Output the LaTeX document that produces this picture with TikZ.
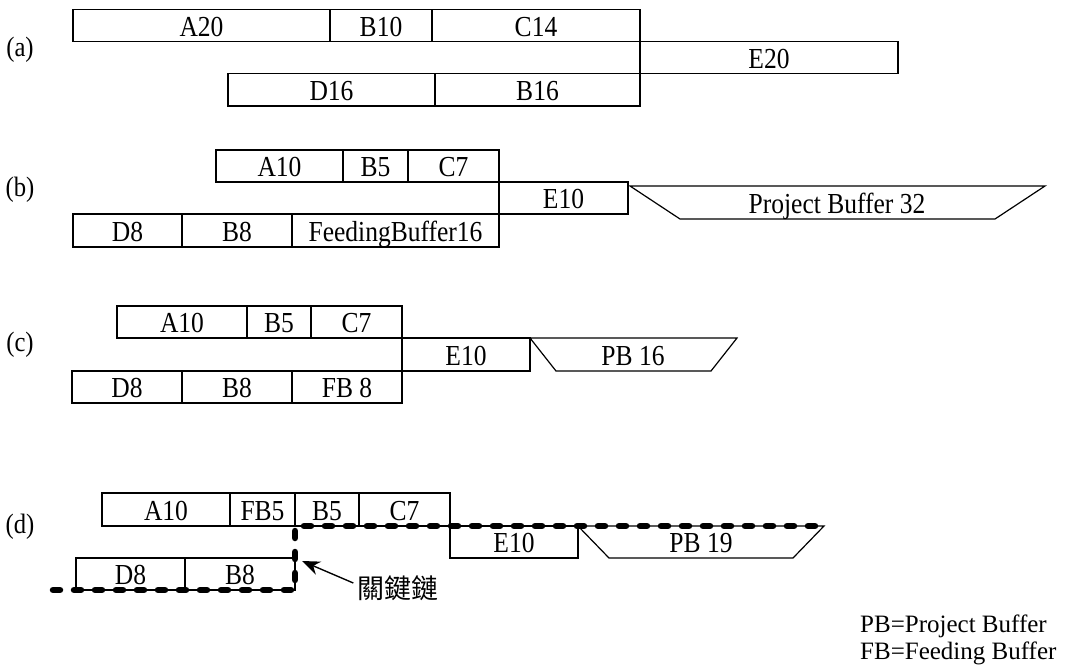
\documentclass[tikz,border=0pt]{standalone}
\usepackage{fontspec}
\setmainfont{Liberation Serif}
\newfontfamily\boxfont[FakeStretch=0.88]{Liberation Serif}
\newfontfamily\cjk{Noto Sans CJK TC}
\usetikzlibrary{calc,arrows.meta}
\tikzset{
  frame/.style={draw=black, line width=1.2pt},
  tbox/.style={frame, rectangle, inner sep=0pt, outer sep=0pt,
    font=\boxfont\fontsize{29}{29}\selectfont, text height=21pt, text depth=0pt},
  lbl/.style={inner sep=0pt, font=\boxfont\fontsize{29}{29}\selectfont, text height=21pt, text depth=0pt},
  rowlbl/.style={inner sep=0pt, font=\boxfont\fontsize{28}{28}\selectfont},
  legend/.style={inner sep=0pt, anchor=base west, font=\fontsize{25}{25}\selectfont, text height=17pt, text depth=5pt},
  chain/.style={line width=6.5pt, dash pattern=on 7pt off 14pt, line cap=round, black},
  pointer/.style={line width=1.4pt, -{Stealth[length=18pt,width=14pt]}}
}
\newcommand\tbox[6]{\node[tbox, minimum width={#4-#2}, minimum height={#5-#3}] (#1) at ({(#2+#4)/2},{(#3+#5)/2}) {#6};}
\begin{document}
\begin{tikzpicture}[x=1pt,y=-1pt]
\useasboundingbox (0,0) rectangle (1081,667);
% row labels
\node[rowlbl] (la) at (20,50) {(a)};
\node[rowlbl] (lb) at (20,190) {(b)};
\node[rowlbl] (lc) at (20,345) {(c)};
\node[rowlbl] (ld) at (20,527) {(d)};
% (a)
\tbox{aA}{73}{9.5}{330}{41.5}{A20}
\tbox{aB}{330}{9.5}{432}{41.5}{B10}
\tbox{aC}{432}{9.5}{640}{41.5}{C14}
\tbox{aE}{640}{41.5}{898}{73.5}{E20}
\tbox{aD}{228}{73.5}{435}{106}{D16}
\tbox{aB2}{435}{73.5}{640}{106}{B16}
% (b)
\tbox{bA}{216}{150}{343}{182}{A10}
\tbox{bB}{343}{150}{408}{182}{B5}
\tbox{bC}{408}{150}{499}{182}{C7}
\tbox{bE}{499}{182}{628}{214}{E10}
\tbox{bD}{73}{214}{182}{247}{D8}
\tbox{bB2}{182}{214}{292}{247}{B8}
\tbox{bF}{292}{214}{499}{247}{FeedingBuffer16}
\coordinate (bp1) at (630,186);
\coordinate (bp2) at (1045,186);
\coordinate (bp3) at (995,219);
\coordinate (bp4) at (680,219);
\draw[frame] (bp1) -- (bp2) -- (bp3) -- (bp4) -- cycle;
\node[lbl] (bPB) at (837,202.5) {Project Buffer 32};
% (c)
\tbox{cA}{117}{306}{247}{338}{A10}
\tbox{cB}{247}{306}{311}{338}{B5}
\tbox{cC}{311}{306}{402}{338}{C7}
\tbox{cE}{402}{338}{530}{371}{E10}
\tbox{cD}{72}{371}{182}{403}{D8}
\tbox{cB2}{182}{371}{292}{403}{B8}
\tbox{cF}{292}{371}{402}{403}{FB 8}
\coordinate (cp1) at (530,338);
\coordinate (cp2) at (737,338);
\coordinate (cp3) at (711,371);
\coordinate (cp4) at (556,371);
\draw[frame] (cp1) -- (cp2) -- (cp3) -- (cp4) -- cycle;
\node[lbl] (cPB) at (633,354.5) {PB 16};
% (d)
\tbox{dA}{102}{493}{230}{526}{A10}
\tbox{dF}{230}{493}{295}{526}{FB5}
\tbox{dB}{295}{493}{359}{526}{B5}
\tbox{dC}{359}{493}{450}{526}{C7}
\tbox{dE}{450}{526}{578}{558}{E10}
\tbox{dD}{76}{558}{185}{590}{D8}
\tbox{dB2}{185}{558}{295}{590}{B8}
\coordinate (dp1) at (578,526);
\coordinate (dp2) at (824,526);
\coordinate (dp3) at (793,558);
\coordinate (dp4) at (609,558);
\draw[frame] (dp1) -- (dp2) -- (dp3) -- (dp4) -- cycle;
\node[lbl] (dPB) at (701,542) {PB 19};
% critical chain
\coordinate (chstart) at (53,590);
\coordinate (chend) at (822,526);
\draw[chain] (chstart) -- (dB2.south east) -- (dB.south west) -- (chend);
% pointer
\node[inner sep=0pt, font=\cjk\fontsize{27}{27}\selectfont] (cclbl) at (398,588) {關鍵鏈};
\coordinate (cctip) at (302,561);
\draw[pointer] ([xshift=-4pt,yshift=5pt]cclbl.west) -- (cctip);
% legend
\node[legend] (leg1) at (860,632) {PB=Project Buffer};
\node[legend] (leg2) at (860,659) {FB=Feeding Buffer};
\end{tikzpicture}
\end{document}
